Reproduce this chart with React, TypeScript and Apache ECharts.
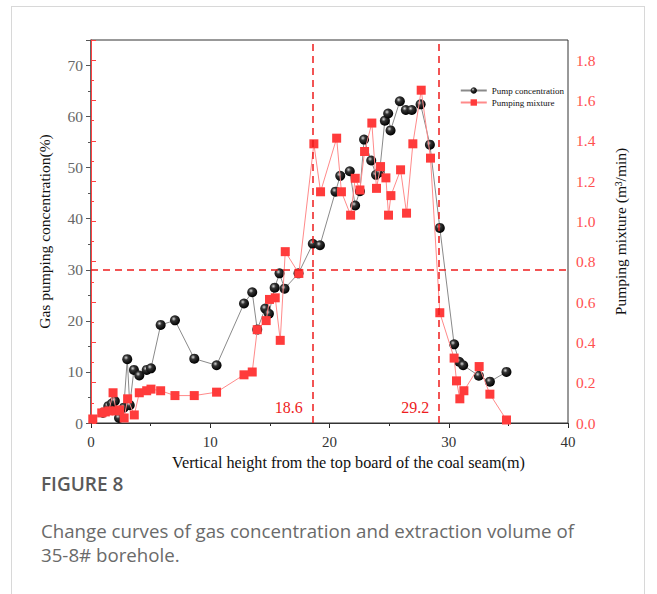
import React, { useEffect, useRef } from "react";
import * as echarts from "echarts";

const concX = [1.0, 1.45, 1.75, 2.0, 2.35, 2.75, 3.04, 3.25, 3.6, 4.05, 4.67, 5.03, 5.84, 7.04, 8.66, 10.53, 12.83, 13.52, 13.94, 14.61, 14.92, 15.4, 15.81, 16.23, 17.4, 18.6, 19.2, 20.5, 20.9, 21.7, 22.15, 22.55, 22.9, 23.5, 23.9, 24.2, 24.64, 24.92, 25.12, 25.9, 26.4, 26.9, 27.64, 28.42, 29.25, 30.45, 30.87, 31.21, 32.52, 33.45, 34.84];
const concY = [2.0, 3.3, 3.8, 4.3, 1.0, 3.0, 12.5, 3.5, 10.4, 9.3, 10.4, 10.7, 19.2, 20.1, 12.6, 11.3, 23.4, 25.6, 18.3, 22.4, 21.4, 26.5, 29.3, 26.3, 29.3, 35.1, 34.8, 45.3, 48.4, 49.3, 42.6, 45.4, 55.5, 51.4, 48.6, 49.1, 59.2, 60.6, 57.3, 63.0, 61.3, 61.3, 62.4, 54.5, 38.2, 15.4, 12.0, 11.3, 9.25, 8.1, 10.0];

const mixX = [0.15, 0.9, 1.2, 1.5, 1.85, 2.1, 2.4, 2.78, 3.07, 3.63, 4.05, 4.67, 5.03, 5.84, 7.04, 8.66, 10.53, 12.83, 13.52, 13.94, 14.69, 14.97, 15.45, 15.87, 16.29, 17.43, 18.69, 19.25, 20.6, 21.0, 21.77, 22.16, 22.55, 22.94, 23.55, 23.94, 24.28, 24.73, 24.95, 25.15, 25.96, 26.46, 26.99, 27.69, 28.47, 29.25, 30.45, 30.65, 30.93, 31.27, 32.55, 33.45, 34.84];
const mixY = [0.02, 0.05, 0.055, 0.06, 0.15, 0.06, 0.065, 0.025, 0.12, 0.04, 0.15, 0.16, 0.168, 0.16, 0.136, 0.136, 0.153, 0.239, 0.253, 0.463, 0.508, 0.613, 0.621, 0.41, 0.85, 0.742, 1.385, 1.147, 1.413, 1.147, 1.031, 1.214, 1.156, 1.347, 1.488, 1.164, 1.272, 1.216, 1.031, 1.128, 1.256, 1.041, 1.385, 1.651, 1.314, 0.547, 0.322, 0.209, 0.12, 0.16, 0.28, 0.143, 0.015];

const markXs = [18.6, 29.2];
const markY = 30;

const xTitle = "Vertical height from the top board of the coal seam(m)";
const yLeftTitle = "Gas pumping concentration(%)";
const yRightTitle = "Pumping mixture (m³/min)";
const seriesNames = ["Pump concentration", "Pumping mixture"];

const SERIF = "'Liberation Serif', 'Times New Roman', serif";
const RED = "#ee1c1c";

export default function App() {
  const ref = useRef<HTMLDivElement>(null);
  useEffect(() => {
    document.body.style.margin = "0";
    const chart = echarts.init(ref.current!, undefined, { renderer: "svg" });
    const ball = {
      type: "radial",
      x: 0.38,
      y: 0.35,
      r: 0.65,
      colorStops: [
        { offset: 0, color: "#d8d8d8" },
        { offset: 0.35, color: "#333" },
        { offset: 1, color: "#000" },
      ],
    };
    chart.setOption({
      animation: false,
      backgroundColor: "transparent",
      grid: { left: 91, top: 40, width: 477, height: 383, show: true, borderColor: "#333", borderWidth: 1 },
      legend: {
        orient: "vertical",
        right: 88,
        top: 81,
        itemGap: 3,
        itemWidth: 26,
        itemHeight: 8,
        textStyle: { fontFamily: SERIF, fontSize: 9, color: "#111" },
        data: seriesNames,
      },
      xAxis: [
        {
          type: "value",
          min: 0,
          max: 40,
          interval: 10,
          name: xTitle,
          nameLocation: "middle",
          nameGap: 32,
          nameTextStyle: { fontFamily: SERIF, fontSize: 16.2, color: "#111", padding: [0, 0, 0, 38] },
          axisLine: { onZero: false, lineStyle: { color: "#222", width: 1 } },
          axisTick: { length: 5, lineStyle: { color: "#222" } },
          minorTick: { show: true, splitNumber: 2, length: 3, lineStyle: { color: "#222" } },
          axisLabel: { fontFamily: SERIF, fontSize: 15, color: "#333", margin: 11 },
          splitLine: { show: false },
        },
        {
          type: "value",
          position: "top",
          min: 0,
          max: 40,
          interval: 10,
          axisLine: { show: true, lineStyle: { color: "#333" } },
          axisTick: { inside: true, length: 3, lineStyle: { color: "#333" } },
          minorTick: { show: true, splitNumber: 2, length: 2 },
          axisLabel: { show: false },
          splitLine: { show: false },
        },
      ],
      yAxis: [
        {
          type: "value",
          min: 0,
          max: 75,
          interval: 10,
          name: yLeftTitle,
          nameLocation: "middle",
          nameGap: 39,
          nameTextStyle: { fontFamily: SERIF, fontSize: 15.5, color: "#111" },
          axisLine: { show: true, lineStyle: { color: "#555", width: 1.5 } },
          axisTick: { show: true, length: 5, lineStyle: { color: "#555" } },
          minorTick: { show: true, splitNumber: 2, length: 3, lineStyle: { color: "#555" } },
          axisLabel: { fontFamily: SERIF, fontSize: 15.5, color: "#666", margin: 8, showMaxLabel: false },
          splitLine: { show: false },
        },
        {
          type: "value",
          min: 0,
          max: 1.9,
          interval: 0.2,
          position: "right",
          name: yRightTitle,
          nameLocation: "middle",
          nameGap: 44,
          nameRotate: 90,
          nameTextStyle: { fontFamily: SERIF, fontSize: 15.5, color: "#111" },
          axisLine: { show: true, lineStyle: { color: "#ff4040", width: 1 } },
          axisTick: { show: true, length: 5, lineStyle: { color: "#ff4040" } },
          minorTick: { show: true, splitNumber: 2, length: 3, lineStyle: { color: "#ff4040" } },
          axisLabel: {
            fontFamily: SERIF,
            fontSize: 15.5,
            color: "#ff5050",
            margin: 8,
            showMaxLabel: false,
            formatter: (v: number) => v.toFixed(1),
          },
          splitLine: { show: false },
        },
      ],
      series: [
        {
          name: seriesNames[0],
          type: "line",
          xAxisIndex: 0,
          yAxisIndex: 0,
          data: concX.map((x, i) => [x, concY[i]]),
          symbol: "circle",
          symbolSize: 10,
          lineStyle: { color: "#8a8a8a", width: 1 },
          itemStyle: { color: ball as any, borderWidth: 0 },
          markLine: {
            silent: true,
            symbol: "none",
            label: { show: false },
            lineStyle: { color: RED, type: [7, 5], width: 1.5 },
            data: [...markXs.map((v) => ({ xAxis: v })), { yAxis: markY }],
          },
          markPoint: {
            silent: true,
            symbol: "circle",
            symbolSize: 0,
            data: markXs.map((v) => ({
              coord: [v, 3.1],
              label: {
                show: true,
                formatter: v.toFixed(1),
                position: "left",
                distance: 10,
                fontFamily: SERIF,
                fontSize: 16,
                color: RED,
              },
            })),
          },
          z: 2,
        },
        {
          name: seriesNames[1],
          type: "line",
          xAxisIndex: 0,
          yAxisIndex: 1,
          data: mixX.map((x, i) => [x, mixY[i]]),
          symbol: "rect",
          symbolSize: 9,
          lineStyle: { color: "#ff8a8a", width: 1 },
          itemStyle: { color: "#ff3b3b", borderWidth: 0 },
          z: 3,
        },
      ],
      graphic: [
        {
          type: "text",
          left: 41,
          top: 474,
          style: { text: "FIGURE 8", font: "600 19px 'Open Sans', sans-serif", fill: "#5a5a5a" },
        },
        {
          type: "text",
          left: 41,
          top: 521,
          style: {
            text: "Change curves of gas concentration and extraction volume of",
            font: "18.7px 'Open Sans', sans-serif",
            fill: "#6a6a6a",
          },
        },
        {
          type: "text",
          left: 41,
          top: 545,
          style: { text: "35-8# borehole.", font: "18.7px 'Open Sans', sans-serif", fill: "#6a6a6a" },
        },
      ],
    });
    return () => chart.dispose();
  }, []);
  return (
    <div style={{ position: "fixed", left: 0, top: 0, width: 657, height: 594, background: "#fff" }}>
      <div
        style={{
          position: "absolute",
          left: 11,
          top: 6,
          width: 634,
          height: 620,
          border: "1px solid #d8d8d8",
          boxSizing: "border-box",
        }}
      />
      <div ref={ref} style={{ position: "absolute", left: 0, top: 0, width: 657, height: 594 }} />
    </div>
  );
}
